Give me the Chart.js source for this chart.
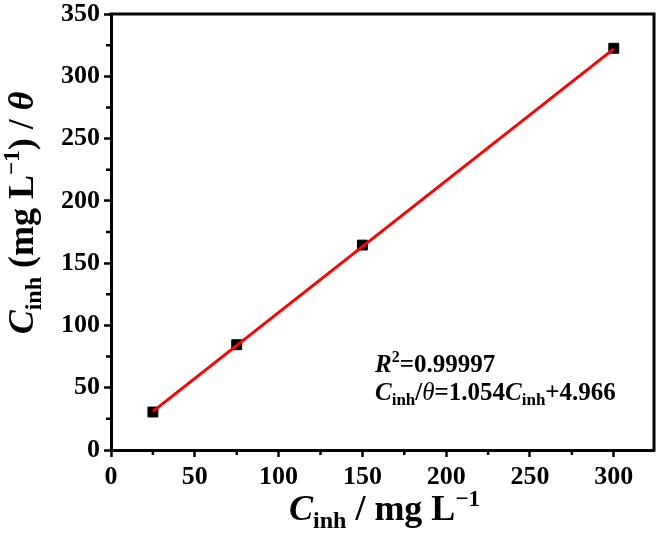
<!DOCTYPE html>
<html>
<head>
<meta charset="utf-8">
<script src="https://cdn.jsdelivr.net/npm/chart.js@4.4.1/dist/chart.umd.min.js"></script>
<style>
  html, body { margin: 0; padding: 0; background: #fff; }
  #c { display: block; }
</style>
</head>
<body>
<canvas id="c" width="658" height="557"></canvas>
<script>
// ---- data ----
const concX = [25, 75, 150, 300];
const ratioY = [30.5, 84.5, 164.5, 322.5];
const fitX = [25, 300];
const fitY = [31, 322];
const xTicks = [0, 50, 100, 150, 200, 250, 300];
const yTicks = [0, 50, 100, 150, 200, 250, 300, 350];
const xMinor = [25, 75, 125, 175, 225, 275];
const yMinor = [25, 75, 125, 175, 225, 275, 325];
const xRange = [0, 324];
const yRange = [0, 350];

const FF = '"Liberation Serif", "Times New Roman", serif';

function drawRich(ctx, segs, x, y, align) {
  let total = 0;
  segs.forEach(s => { ctx.font = s.font; s.w = ctx.measureText(s.t).width; total += s.w; });
  let cx = align === 'center' ? x - total / 2 : x;
  ctx.textBaseline = 'alphabetic';
  ctx.textAlign = 'left';
  segs.forEach(s => {
    ctx.font = s.font;
    ctx.fillText(s.t, cx, y + (s.dy || 0));
    cx += s.w;
  });
}

const extras = {
  id: 'extras',
  afterDraw(chart) {
    const ctx = chart.ctx;
    const a = chart.chartArea;
    const xs = chart.scales.x, ys = chart.scales.y;
    ctx.save();
    ctx.strokeStyle = '#000';
    // frame top/right
    ctx.lineWidth = 3;
    ctx.beginPath();
    ctx.moveTo(a.left - 1.5, a.top);
    ctx.lineTo(a.right, a.top);
    ctx.lineTo(a.right, a.bottom + 1.5);
    ctx.stroke();
    // minor ticks
    ctx.lineWidth = 2.5;
    ctx.beginPath();
    xMinor.forEach(v => {
      const px = xs.getPixelForValue(v);
      ctx.moveTo(px, a.bottom); ctx.lineTo(px, a.bottom + 5);
    });
    yMinor.forEach(v => {
      const py = ys.getPixelForValue(v);
      ctx.moveTo(a.left, py); ctx.lineTo(a.left - 5, py);
    });
    ctx.stroke();

    ctx.fillStyle = '#000';
    // x title
    drawRich(ctx, [
      { t: 'C', font: 'italic bold 36px ' + FF },
      { t: 'inh', font: 'bold 24px ' + FF, dy: 8 },
      { t: ' / mg L', font: 'bold 36px ' + FF },
      { t: '\u22121', font: 'bold 23px ' + FF, dy: -14 }
    ], (a.left + a.right) / 2 + 2, 520, 'center');

    // y title
    ctx.save();
    ctx.translate(33, 213);
    ctx.rotate(-Math.PI / 2);
    drawRich(ctx, [
      { t: 'C', font: 'italic bold 36px ' + FF },
      { t: 'inh', font: 'bold 24px ' + FF, dy: 8 },
      { t: ' (mg L', font: 'bold 36px ' + FF },
      { t: '\u22121', font: 'bold 23px ' + FF, dy: -14 },
      { t: ') / ', font: 'bold 36px ' + FF },
      { t: '\u03b8', font: 'italic bold 36px ' + FF }
    ], 0, 0, 'center');
    ctx.restore();

    // annotation
    drawRich(ctx, [
      { t: 'R', font: 'italic bold 25px ' + FF },
      { t: '2', font: 'bold 16px ' + FF, dy: -10 },
      { t: '=0.99997', font: 'bold 25px ' + FF }
    ], 375, 372, 'left');
    drawRich(ctx, [
      { t: 'C', font: 'italic bold 25px ' + FF },
      { t: 'inh', font: 'bold 17px ' + FF, dy: 5 },
      { t: '/', font: 'bold 25px ' + FF },
      { t: '\u03b8', font: 'italic 25px ' + FF },
      { t: '=1.054', font: 'bold 25px ' + FF },
      { t: 'C', font: 'italic bold 25px ' + FF },
      { t: 'inh', font: 'bold 17px ' + FF, dy: 5 },
      { t: '+4.966', font: 'bold 25px ' + FF }
    ], 375, 400, 'left');
    ctx.restore();
  }
};

new Chart(document.getElementById('c'), {
  type: 'scatter',
  data: {
    datasets: [
      {
        type: 'line',
        data: fitX.map((x, i) => ({ x, y: fitY[i] })),
        borderColor: '#ff0000',
        borderWidth: 3,
        pointRadius: 0,
        fill: false,
        order: 0
      },
      {
        data: concX.map((x, i) => ({ x, y: ratioY[i] })),
        pointStyle: 'rect',
        pointRadius: 7,
        backgroundColor: '#000',
        borderColor: '#000',
        borderWidth: 1,
        order: 1
      }
    ]
  },
  options: {
    responsive: false,
    animation: false,
    devicePixelRatio: 1,
    layout: { autoPadding: false, padding: { top: 14, right: 4, left: 0, bottom: 0 } },
    plugins: { legend: { display: false }, tooltip: { enabled: false } },
    scales: {
      x: {
        type: 'linear',
        min: xRange[0], max: xRange[1],
        afterBuildTicks: s => { s.ticks = xTicks.map(v => ({ value: v })); },
        afterFit: s => { s.height = 107; s.paddingLeft = 0; s.paddingRight = 0; },
        grid: { display: true, drawOnChartArea: false, drawTicks: true, tickLength: 7, tickWidth: 2.5, tickColor: '#000', color: '#000' },
        border: { display: true, color: '#000', width: 3 },
        ticks: { color: '#000', font: { family: FF, size: 26, weight: 'bold' }, padding: 5, maxRotation: 0 }
      },
      y: {
        type: 'linear',
        min: yRange[0], max: yRange[1],
        afterBuildTicks: s => { s.ticks = yTicks.map(v => ({ value: v })); },
        afterFit: s => { s.width = 111; s.paddingTop = 0; s.paddingBottom = 0; },
        grid: { display: true, drawOnChartArea: false, drawTicks: true, tickLength: 7, tickWidth: 2.5, tickColor: '#000', color: '#000' },
        border: { display: true, color: '#000', width: 3 },
        ticks: { color: '#000', font: { family: FF, size: 26, weight: 'bold' }, padding: 4 }
      }
    }
  },
  plugins: [extras]
});
</script>
</body>
</html>
